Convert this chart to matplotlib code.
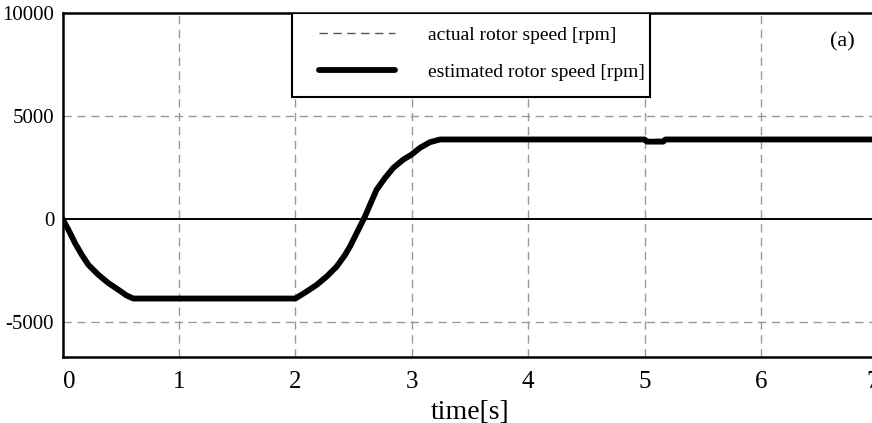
import matplotlib
matplotlib.use("Agg")
import matplotlib.pyplot as plt
from matplotlib.patches import Rectangle
from matplotlib.transforms import ScaledTranslation

plt.rcParams['font.family'] = ['Liberation Serif', 'DejaVu Serif']
plt.rcParams['axes.unicode_minus'] = False

# rotor speed (time in s, speed in rpm)
time_s = [0, 0.05, 0.107, 0.165, 0.222, 0.308, 0.394, 0.48, 0.55, 0.608,
          2.0, 2.098, 2.184, 2.27, 2.356, 2.427, 2.47, 2.513, 2.556, 2.599,
          2.642, 2.699, 2.771, 2.842, 2.928, 3.0, 3.071, 3.157, 3.243,
          5.0, 5.02, 5.16, 5.18, 7.0]
speed_est = [0, -520, -1170, -1740, -2230, -2715, -3120, -3445, -3720, -3870,
             -3870, -3528, -3202, -2797, -2310, -1750, -1335, -848, -360, 127,
             697, 1428, 1998, 2485, 2890, 3134, 3460, 3733, 3865,
             3865, 3760, 3760, 3865, 3865]
speed_act = [0, -520, -1170, -1740, -2230, -2715, -3120, -3445, -3720, -3870,
             -3870, -3528, -3202, -2797, -2310, -1750, -1335, -848, -360, 127,
             697, 1428, 1998, 2485, 2890, 3134, 3460, 3733, 3865,
             3865, 3865, 3865, 3865, 3865]

xticks = [0, 1, 2, 3, 4, 5, 6, 7]
yticks = [-5000, 0, 5000, 10000]

fig = plt.figure(figsize=(8.72, 4.23), dpi=100)
ax = fig.add_axes([0.0717, 0.1567, 0.9344, 0.8118])

ax.set_xlim(0, 7)
ax.set_ylim(-6700, 10000)
ax.set_xticks(xticks)
ax.set_yticks(yticks)
ax.tick_params(length=0)
ax.tick_params(axis='x', labelsize=18, pad=10.5)
ax.tick_params(axis='y', labelsize=15, pad=6)
xlabels = ax.get_xticklabels()
xlabels[0].set_horizontalalignment('left')
xlabels[-1].set_transform(xlabels[-1].get_transform()
                          + ScaledTranslation(-5 / 100, 0, fig.dpi_scale_trans))

for x in xticks[1:]:
    ax.axvline(x, color='#999999', lw=1.0, ls=(0, (6, 4)), zorder=1)
for y in [-5000, 5000]:
    ax.axhline(y, color='#999999', lw=1.0, ls=(0, (6, 4)), zorder=1)
ax.axhline(0, color='black', lw=1.4, zorder=1.5)

ax.plot(time_s, speed_act, color='#555555', lw=1.0, ls=(0, (6, 4)),
        label='actual rotor speed [rpm]', zorder=2)
ax.plot(time_s, speed_est, color='black', lw=4.2, solid_capstyle='round',
        solid_joinstyle='round', label='estimated rotor speed [rpm]', zorder=3)

for s in ax.spines.values():
    s.set_linewidth(1.8)

ax.set_xlabel('time[s]', fontsize=20)
ax.xaxis.set_label_coords(0.5, -0.125)

ax.text(6.70, 8590, '(a)', fontsize=16, ha='center', va='center')

ax.add_patch(Rectangle((0.2817, 0.756), 0.439, 0.244, transform=ax.transAxes,
                       facecolor='white', edgecolor='black', lw=1.5, zorder=4))
ax.legend(loc='upper left', bbox_to_anchor=(0.3148, 0.962), frameon=False,
          fontsize=14, handlelength=3.9, handletextpad=1.7, borderpad=0,
          borderaxespad=0, labelspacing=0.98).set_zorder(5)

fig.savefig('out.png', dpi=100)
